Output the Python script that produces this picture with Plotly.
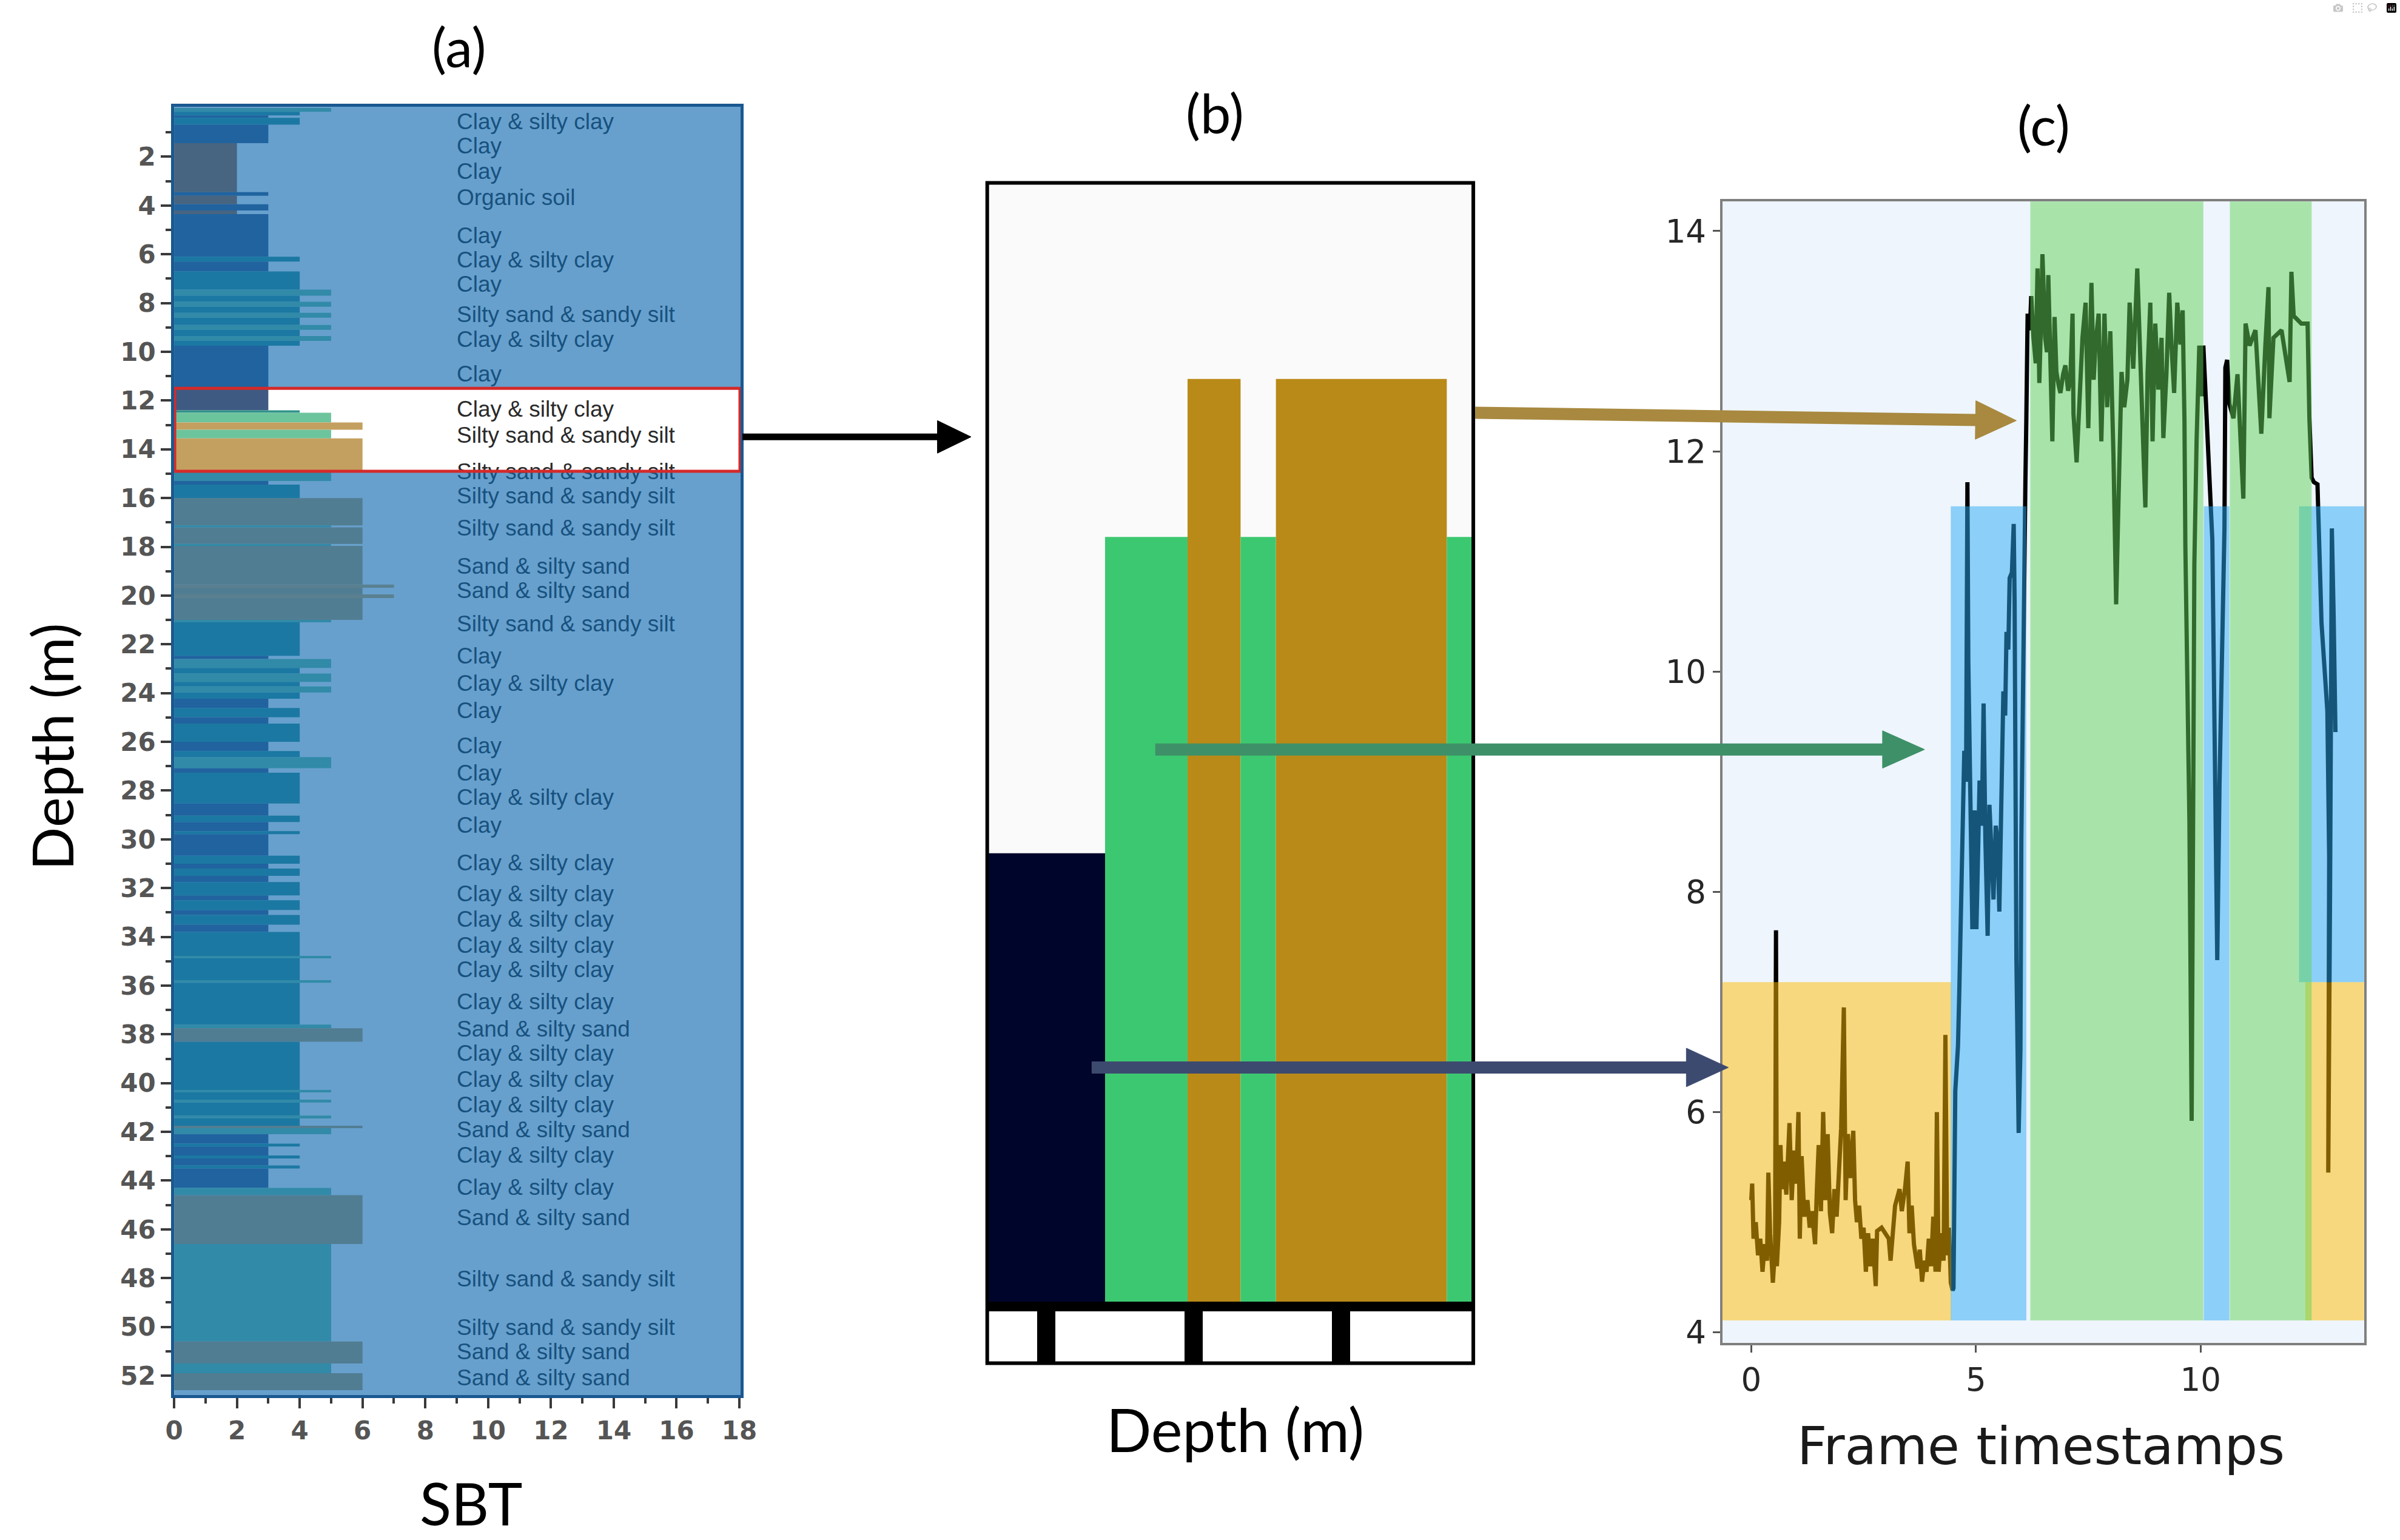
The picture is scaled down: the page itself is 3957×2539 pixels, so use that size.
import plotly.graph_objects as go

W, H = 3957, 2539

# ---------------- panel (a): SBT profile ----------------
a_top = [0.00, 0.15, 0.30, 0.40, 0.68, 1.44, 3.45, 3.60, 3.95, 4.20, 4.35, 6.10, 6.30, 6.70, 7.45, 7.70,
         7.95, 8.15, 8.40, 8.60, 8.90, 9.10, 9.35, 9.55, 9.75, 11.50, 12.40, 12.50, 12.90, 13.20, 13.55,
         14.90, 15.30, 15.45, 16.00, 17.12, 17.20, 17.88, 17.96, 19.55, 19.68, 19.95, 20.10, 21.00, 21.10,
         22.47, 22.60, 22.97, 23.20, 23.54, 23.73, 23.98, 24.23, 24.61, 24.99, 25.25, 26.00, 26.38, 26.63,
         27.08, 27.27, 28.53, 29.03, 29.29, 29.66, 29.79, 30.67, 31.00, 31.20, 31.50, 31.75, 32.30, 32.50,
         32.90, 33.10, 33.50, 33.80, 34.78, 34.88, 35.78, 35.88, 37.60, 37.75, 38.30, 40.28, 40.38, 40.68,
         40.80, 41.33, 41.45, 41.75, 41.85, 42.10, 42.48, 42.60, 42.97, 43.09, 43.38, 43.50, 44.30, 44.60,
         46.60, 50.60, 51.50, 51.90]
a_bot = a_top[1:] + [52.60]
a_sbt = [5, 4, 3, 4, 3, 2, 3, 2, 3, 2, 3, 4, 3, 4, 5, 4,
         5, 4, 5, 4, 5, 4, 5, 4, 3, 3, 4, 5, 6, 5, 6,
         5, 3, 4, 6, 5, 6, 5, 6, 7, 6, 7, 6, 5, 4,
         3, 5, 4, 5, 4, 5, 4, 3, 4, 3, 4, 3, 4, 5,
         3, 4, 3, 4, 3, 4, 3, 4, 3, 4, 3, 4, 3, 4,
         3, 4, 3, 4, 5, 4, 5, 4, 5, 6, 4, 5, 4, 5,
         4, 5, 4, 6, 5, 3, 4, 3, 4, 3, 4, 3, 5, 6,
         5, 6, 5, 6]
sbt_colors = {2: "#a85d2e", 3: "#3e5a82", 4: "#31938a", 5: "#6cc49c", 6: "#c4a060", 7: "#dba959"}

label_depth = [0.63, 1.63, 2.69, 3.75, 5.31, 6.31, 7.31, 8.56, 9.56, 11.0, 12.44, 13.5, 15.0, 16.0, 17.3,
               18.87, 19.87, 21.24, 22.55, 23.68, 24.8, 26.24, 27.36, 28.36, 29.49, 31.05, 32.3, 33.36,
               34.42, 35.42, 36.73, 37.86, 38.86, 39.92, 40.98, 41.98, 43.04, 44.35, 45.6, 48.1, 50.1,
               51.1, 52.16]
CSC, C, OS, SS, SA = "Clay & silty clay", "Clay", "Organic soil", "Silty sand & sandy silt", "Sand & silty sand"
label_text = [CSC, C, C, OS, C, CSC, C, SS, CSC, C, CSC, SS, SS, SS, SS,
              SA, SA, SS, C, CSC, C, C, C, CSC, C, CSC, CSC, CSC,
              CSC, CSC, CSC, SA, CSC, CSC, CSC, SA, CSC, CSC, SA, SS, SS,
              SA, SA]

# ---------------- panel (b): zoomed section ----------------
b_from = [11.61, 12.40, 12.96, 13.32, 13.56, 14.72]
b_to = [12.40, 12.96, 13.32, 13.56, 14.72, 14.90]
b_sbt = [3, 5, 6, 5, 6, 5]
b_colors = {3: "#00052b", 5: "#3cc870", 6: "#b98a18"}

# ---------------- panel (c): time series ----------------
ts_t = [0.00, 0.02, 0.05, 0.10, 0.15, 0.20, 0.25, 0.30, 0.35, 0.38, 0.42, 0.48, 0.53, 0.55, 0.57, 0.62,
        0.65, 0.68, 0.72, 0.78, 0.85, 0.90, 0.95, 1.00, 1.05, 1.08, 1.12, 1.18, 1.25, 1.30, 1.35, 1.42,
        1.46, 1.50, 1.55, 1.60, 1.65, 1.70, 1.75, 1.80, 1.85, 1.90, 1.95, 2.00, 2.06, 2.10, 2.15, 2.20,
        2.27, 2.31, 2.35, 2.40, 2.45, 2.50, 2.55, 2.60, 2.65, 2.70, 2.77, 2.80, 2.90, 3.00, 3.06, 3.10,
        3.15, 3.20, 3.30, 3.35, 3.42, 3.48, 3.52, 3.57, 3.62, 3.70, 3.75, 3.80, 3.85, 3.90, 3.95, 4.00,
        4.05, 4.10, 4.13, 4.17, 4.22, 4.28, 4.32, 4.36, 4.40, 4.44, 4.48,
        4.50, 4.54, 4.60, 4.63, 4.68, 4.74, 4.78, 4.81, 4.83, 4.87, 4.92, 4.97, 5.01, 5.05, 5.08, 5.13,
        5.17, 5.21, 5.26, 5.30, 5.35, 5.39, 5.44, 5.48, 5.52, 5.57, 5.61, 5.65, 5.68, 5.72, 5.75, 5.80,
        5.84, 5.86, 5.88, 5.90, 5.95, 5.99, 6.01, 6.04, 6.06, 6.10, 6.12, 6.15,
        6.20, 6.23, 6.28, 6.33, 6.37, 6.41, 6.45, 6.48, 6.54, 6.58, 6.61, 6.66, 6.70, 6.75, 6.79, 6.84,
        6.88, 6.94, 6.99, 7.05, 7.10, 7.15, 7.17, 7.24, 7.30, 7.37, 7.44, 7.50, 7.57, 7.62, 7.66, 7.73,
        7.79, 7.86, 7.92, 7.99, 8.06, 8.12, 8.17, 8.24, 8.30, 8.37, 8.42, 8.50, 8.59, 8.66, 8.73, 8.77,
        8.82, 8.88, 8.93, 8.99, 9.06, 9.13, 9.17, 9.24, 9.30, 9.35, 9.41, 9.48, 9.55, 9.60, 9.64, 9.66,
        9.70, 9.75, 9.80, 9.84, 9.86, 9.91, 9.97, 10.02, 10.06, 10.15, 10.21, 10.26, 10.30, 10.34, 10.37,
        10.42, 10.48, 10.53, 10.55, 10.59, 10.64, 10.73, 10.82, 10.95, 11.00, 11.09, 11.22, 11.35, 11.44,
        11.51, 11.53, 11.62, 11.80, 11.98, 12.02, 12.07, 12.24, 12.38, 12.42, 12.47, 12.52, 12.60, 12.69,
        12.76, 12.82, 12.86, 12.86, 12.84, 12.88, 12.92, 12.96, 13.00]
ts_v = [5.20, 5.35, 4.85, 5.00, 4.70, 4.85, 4.55, 4.80, 4.65, 5.45, 4.90, 4.45, 4.75, 7.65, 4.60, 5.00,
        5.70, 5.30, 5.55, 5.25, 5.90, 5.20, 5.65, 5.35, 6.00, 4.85, 5.60, 5.05, 5.20, 4.95, 5.10, 4.80,
        5.30, 5.70, 5.10, 6.00, 5.20, 5.80, 5.08, 4.90, 5.30, 5.05, 5.45, 5.85, 6.95, 5.20, 5.80, 5.40,
        5.83, 5.20, 5.00, 5.15, 4.85, 4.95, 4.55, 4.90, 4.60, 4.85, 4.42, 4.92, 4.95, 4.88, 4.85, 4.65,
        4.90, 5.15, 5.30, 5.10, 5.30, 5.55, 4.90, 5.15, 4.80, 4.58, 4.75, 4.46, 4.65, 4.55, 4.85, 4.60,
        5.05, 4.55, 6.00, 4.55, 4.90, 4.65, 6.70, 4.70, 4.95, 4.45, 4.38,
        4.40, 6.19, 6.60, 7.11, 7.93, 9.28, 9.00, 11.72, 10.09, 9.00, 7.66, 8.74, 7.66, 8.40, 9.01, 8.60,
        9.71, 8.47, 7.60, 8.79, 8.20, 7.93, 8.60, 8.47, 7.82, 9.12, 9.82, 9.60, 10.36, 10.20, 10.85, 10.90,
        11.34, 10.64, 9.01, 7.39, 5.81, 6.57, 8.47, 9.82, 10.64, 11.72, 12.26, 13.25,
        13.10, 13.41, 13.03, 12.80, 13.66, 12.62, 13.20, 13.79, 13.03, 12.90, 13.60, 12.78, 12.09, 13.22, 12.72, 12.60,
        12.53, 12.70, 12.78, 12.55, 12.65, 13.25, 12.34, 11.90, 12.53, 13.03, 13.35, 12.21, 13.53, 12.65, 12.97, 13.25,
        12.09, 13.25, 12.40, 13.09, 11.96, 10.61, 11.52, 12.72, 12.40, 12.65, 13.35, 12.75, 13.66, 12.65, 11.96, 11.49,
        12.72, 13.35, 12.09, 13.16, 12.56, 13.03, 12.12, 12.72, 13.44, 12.97, 12.53, 13.35, 12.97, 13.28, 12.28, 11.14,
        9.97, 8.64, 5.92, 9.64, 10.97, 12.10, 12.96, 12.50, 12.96, 12.16, 11.63, 11.20, 9.80, 8.50, 7.38,
        8.98, 10.30, 11.30, 12.76, 12.83, 12.43, 12.30, 12.70, 11.57, 13.16, 12.96, 13.10, 12.16, 12.96,
        13.49, 12.30, 13.03, 13.10, 12.63, 13.63, 13.23, 13.16, 13.16, 12.30, 11.76, 11.72, 11.70, 10.44,
        10.00, 9.64, 8.31, 7.00, 5.45, 8.00, 11.30, 10.50, 9.45]

# class bands shown behind the series (start, end, lower, upper, class)
reg_t0 = [-0.70, 12.33, 4.44, 10.07, 12.19, 6.21, 10.65]
reg_t1 = [4.45, 13.70, 6.12, 10.64, 13.80, 10.06, 12.47]
reg_v0 = [4.108, 4.108, 4.108, 4.108, 7.18, 4.108, 4.108]
reg_v1 = [7.18, 7.18, 11.50, 11.50, 11.50, 14.32, 14.32]
reg_cls = ["clay", "clay", "silt", "silt", "silt", "sand", "sand"]
reg_colors = {"clay": "#ffbb00", "silt": "#2aa9f4", "sand": "#62d358"}


def px(x):
    return x / W


def py(y):
    return 1 - y / H


fig = go.Figure()

# (a) bars
fig.add_trace(go.Bar(
    orientation="h",
    y=[(t + b) / 2 for t, b in zip(a_top, a_bot)],
    x=a_sbt,
    width=[b - t for t, b in zip(a_top, a_bot)],
    base=0,
    marker=dict(color=[sbt_colors[s] for s in a_sbt], line=dict(width=0)),
    xaxis="x", yaxis="y", hoverinfo="skip", showlegend=False))

fig.add_trace(go.Scatter(
    x=[9.0] * len(label_depth), y=label_depth, text=label_text, mode="text",
    textposition="middle right",
    textfont=dict(family="Liberation Sans", size=37, color="#2a2a2a"),
    xaxis="x", yaxis="y", hoverinfo="skip", showlegend=False, cliponaxis=True))

# (b) bars
fig.add_trace(go.Bar(
    x=[(a + b) / 2 for a, b in zip(b_from, b_to)],
    y=b_sbt,
    width=[b - a for a, b in zip(b_from, b_to)],
    base=0,
    marker=dict(color=[b_colors[s] for s in b_sbt], line=dict(width=0)),
    xaxis="x2", yaxis="y2", hoverinfo="skip", showlegend=False))

# (c) series
fig.add_trace(go.Scatter(
    x=ts_t, y=ts_v, mode="lines", line=dict(color="#000000", width=7),
    xaxis="x3", yaxis="y3", hoverinfo="skip", showlegend=False))

shapes = []
# backgrounds
shapes.append(dict(type="rect", xref="x2 domain", yref="y2 domain", x0=0, x1=1, y0=0, y1=1,
                   fillcolor="#fafafa", line=dict(width=0), layer="below"))
shapes.append(dict(type="rect", xref="x3 domain", yref="y3 domain", x0=0, x1=1, y0=0, y1=1,
                   fillcolor="#eef5fc", line=dict(width=0), layer="below"))
# (a) blue veil outside the highlighted window
for y0, y1 in [(-0.05, 11.50), (14.90, 52.80)]:
    shapes.append(dict(type="rect", xref="x", yref="y", x0=0, x1=18.04, y0=y0, y1=y1,
                       fillcolor="rgb(14,104,176)", opacity=0.63, line=dict(width=0), layer="above"))
# (a) red highlight box
shapes.append(dict(type="rect", xref="x", yref="y", x0=0.02, x1=18.02, y0=11.50, y1=14.90,
                   fillcolor="rgba(0,0,0,0)", line=dict(color="#d42a2a", width=5), layer="above"))
# (c) class bands
for k in ["clay", "silt", "sand"]:
    for t0, t1, v0, v1, c in zip(reg_t0, reg_t1, reg_v0, reg_v1, reg_cls):
        if c == k:
            shapes.append(dict(type="rect", xref="x3", yref="y3", x0=t0, x1=t1, y0=v0, y1=v1,
                               fillcolor=reg_colors[c], opacity=0.5, line=dict(width=0), layer="above"))
# (b) frame
shapes.append(dict(type="rect", xref="paper", yref="paper", x0=px(1630), x1=px(2440),
                   y0=py(2259), y1=py(303), fillcolor="rgba(0,0,0,0)",
                   line=dict(color="#000000", width=6), layer="above"))

# connecting arrows (pixel geometry)
arrows = [
    (1222, 724, 1603, 724, 11, 56, 27, "#000000"),
    (2443, 684, 3345, 697, 20, 68, 32, "#a8893f"),
    (1910, 1242, 3192, 1242, 20, 70, 31, "#3e9068"),
    (1804, 1769, 2865, 1769, 20, 70, 32, "#3d4a70"),
]
for x0, y0, x1, y1, lw, hl, hh, col in arrows:
    dx, dy = x1 - x0, y1 - y0
    L = (dx * dx + dy * dy) ** 0.5
    ux, uy = dx / L, dy / L
    nx, ny = -uy, ux
    bx, by = x1 - hl * ux, y1 - hl * uy
    shapes.append(dict(type="line", xref="paper", yref="paper",
                       x0=px(x0), y0=py(y0), x1=px(bx + ux * 2), y1=py(by + uy * 2),
                       line=dict(color=col, width=lw), layer="above"))
    path = "M{:.6f},{:.6f} L{:.6f},{:.6f} L{:.6f},{:.6f} Z".format(
        px(x1), py(y1), px(bx + nx * hh), py(by + ny * hh), px(bx - nx * hh), py(by - ny * hh))
    shapes.append(dict(type="path", xref="paper", yref="paper", path=path,
                       fillcolor=col, line=dict(color=col, width=1), layer="above"))

annotations = [
    dict(text="(a)", x=px(750), y=py(76), font=dict(family="Lato", size=90, color="#000000")),
    dict(text="(b)", x=px(2009), y=py(186), font=dict(family="Lato", size=90, color="#000000")),
    dict(text="(c)", x=px(3390), y=py(206), font=dict(family="Lato", size=90, color="#000000")),
    dict(text="Depth (m)", x=px(70), y=py(1237), textangle=-90,
         font=dict(family="Lato", size=94, color="#000000")),
    dict(text="SBT", x=px(770), y=py(2490), font=dict(family="Lato", size=96, color="#000000")),
    dict(text="Depth (m)", x=px(2043), y=py(2368), font=dict(family="Lato", size=98, color="#000000")),
    dict(text="Frame timestamps", x=px(3386), y=py(2396),
         font=dict(family="DejaVu Sans", size=86, color="#1a1a1a")),
]
for a in annotations:
    a.update(xref="paper", yref="paper", showarrow=False, xanchor="center", yanchor="middle")

tick_a = dict(family="DejaVu Sans", size=42, color="#555555", weight="bold")
tick_c = dict(family="DejaVu Sans", size=53, color="#262626")

fig.update_layout(
    width=W, height=H, autosize=False,
    margin=dict(l=0, r=0, t=0, b=0, pad=0),
    paper_bgcolor="#ffffff", plot_bgcolor="rgba(0,0,0,0)",
    barmode="overlay", showlegend=False,
    shapes=shapes, annotations=annotations,
    xaxis=dict(domain=[px(275), px(1219)], range=[0, 18.04], anchor="y",
               tickmode="array", tickvals=list(range(0, 19, 2)),
               ticks="outside", ticklen=17, tickwidth=4, tickcolor="#3a3a3a", tickfont=tick_a,
               minor=dict(tickmode="array", tickvals=list(range(1, 18, 2)), ticks="outside",
                          ticklen=9, tickwidth=4, tickcolor="#3a3a3a"),
               showline=True, linecolor="#1a5890", linewidth=5, mirror=True,
               showgrid=False, zeroline=False, fixedrange=True),
    yaxis=dict(domain=[py(2312), py(177)], range=[52.8, -0.05], anchor="x",
               tickmode="array", tickvals=list(range(2, 53, 2)),
               ticks="outside", ticklen=17, tickwidth=4, tickcolor="#3a3a3a", tickfont=tick_a,
               minor=dict(tickmode="array", tickvals=list(range(1, 53, 2)), ticks="outside",
                          ticklen=9, tickwidth=4, tickcolor="#3a3a3a"),
               showline=True, linecolor="#1a5890", linewidth=5, mirror=True,
               showgrid=False, zeroline=False, fixedrange=True),
    xaxis2=dict(domain=[px(1630), px(2440)], range=[11.6, 14.9], anchor="y2",
                tickmode="array", tickvals=[12, 13, 14], showticklabels=False,
                ticks="outside", ticklen=85, tickwidth=30, tickcolor="#000000",
                showline=True, linecolor="#000000", linewidth=16,
                showgrid=False, zeroline=False, fixedrange=True),
    yaxis2=dict(domain=[py(2157), py(303)], range=[0.164, 7.24], anchor="x2",
                visible=False, fixedrange=True),
    xaxis3=dict(domain=[px(2855), px(3924.5)], range=[-0.644, 13.638], anchor="y3",
                tickmode="array", tickvals=[0, 5, 10],
                ticks="outside", ticklen=12, tickwidth=3, tickcolor="#555555", tickfont=tick_c,
                showline=True, linecolor="#7f7f7f", linewidth=4, mirror=True,
                showgrid=False, zeroline=False, fixedrange=True),
    yaxis3=dict(domain=[py(2225), py(334)], range=[3.906, 14.268], anchor="x3",
                tickmode="array", tickvals=[4, 6, 8, 10, 12, 14],
                ticks="outside", ticklen=12, tickwidth=3, tickcolor="#555555", tickfont=tick_c,
                showline=True, linecolor="#7f7f7f", linewidth=4, mirror=True,
                showgrid=False, zeroline=False, fixedrange=True),
)

fig.write_html("out.html", post_script="document.body.style.margin='0';document.body.style.overflow='hidden';")
